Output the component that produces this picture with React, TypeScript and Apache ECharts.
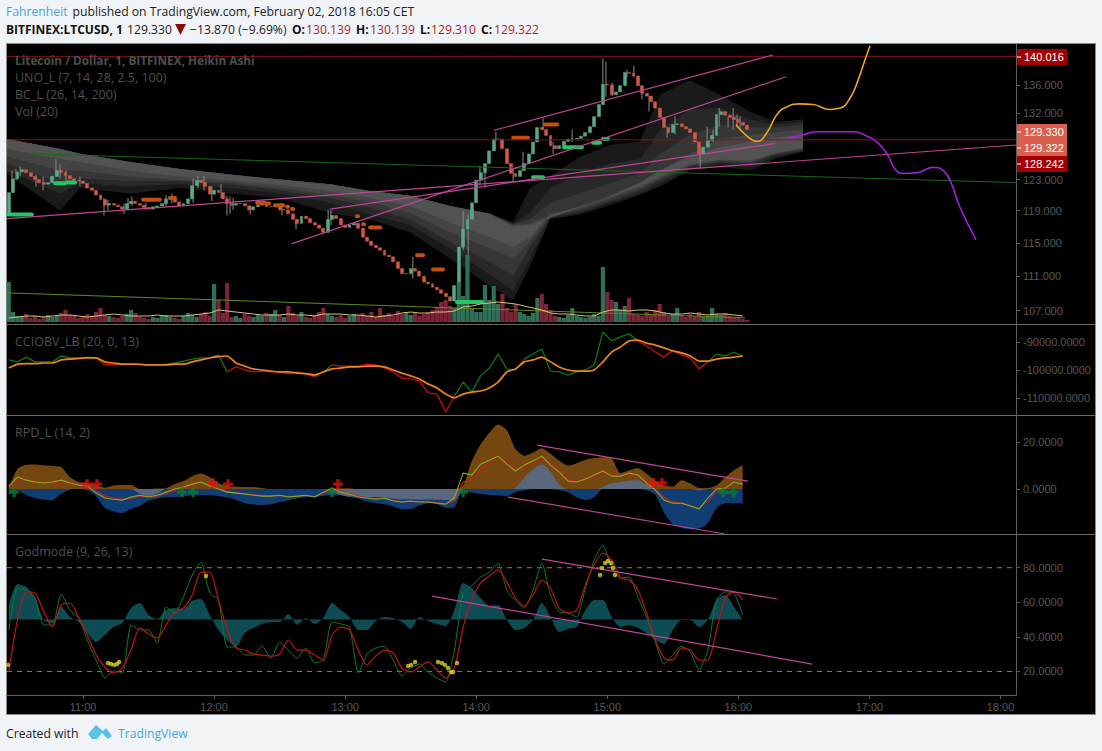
import React, { useEffect, useRef } from "react";
import * as echarts from "echarts";

// ---- time axis (minutes since midnight) ----
const AXIS_MIN = 625.2;
const AXIS_MAX = 1087.1;
const timeTicks = [660, 720, 780, 840, 900, 960, 1020, 1080];

// ---- price pane ----
const priceTicks = [107, 111, 115, 119, 123, 132, 136];
const candleStart = 626;
const candleStep = 2;
const candleClose = [
  121.3,123.1,124.0,124.3,123.9,123.4,123.0,122.6,122.4,122.6,
  123.4,124.2,123.9,123.5,123.1,122.9,122.8,122.5,121.9,121.6,
  121.0,120.4,119.7,119.9,119.7,119.5,119.2,119.9,120.2,119.9,
  119.7,119.4,119.2,119.5,119.6,119.9,120.5,120.6,120.1,119.6,
  119.9,120.5,122.2,122.9,122.6,122.1,121.1,121.6,121.3,120.5,
  119.9,119.7,119.9,119.9,119.6,119.1,119.5,119.7,119.9,119.5,
  119.5,119.6,119.1,119.1,118.6,117.9,117.4,118.3,118.0,117.5,
  117.2,116.8,116.3,117.9,118.4,118.0,117.2,116.9,117.2,117.4,
  116.8,115.7,115.2,114.7,114.4,114.1,113.5,113.3,112.7,111.9,
  111.3,111.3,111.9,111.6,111.0,110.3,110.1,109.7,109.4,109.0,
  108.6,108.1,109.9,114.5,116.7,117.9,120.0,122.9,123.9,125.1,
  126.8,128.4,128.4,127.1,125.1,123.8,123.4,124.2,125.1,126.4,
  128.0,130.0,129.7,128.9,127.5,127.1,127.5,128.1,128.4,128.4,
  128.5,128.8,129.3,130.1,131.5,133.2,136.1,136.0,134.6,135.0,
  135.9,137.8,137.7,137.3,135.9,134.8,134.4,133.6,132.7,131.4,
  130.0,129.3,130.4,130.5,130.1,129.8,129.3,128.0,126.4,127.3,
  128.2,128.9,131.8,132.2,131.7,131.4,131.1,130.7,130.3,129.7,
];
const firstCandleOpen = 118.4;
// minute, low, high of the long wicks
const candleWicks = [
  [627.5,121.9,124.2],[629.3,122.9,124.4],[631.2,123.4,124.7],[638.5,122.1,123.65],[641.7,121.6,123.4],
  [647.6,123.4,125.7],[649.5,123.15,125],[652.2,122.4,124.2],[658.6,122.1,123.4],[669.6,118.4,120.6],
  [671.4,119.1,120.4],[678.8,118.6,119.9],[680.6,119.1,120.6],[682.4,119.6,120.8],[688.8,119.1,120],
  [698,119.6,121],[700.7,119.9,121.2],[710.4,120,123.15],[712.6,121.9,123.4],[715.4,121.6,123.5],
  [719,120.2,122.1],[723.2,120.6,122.4],[725.9,118.4,120.9],[727.3,118.6,120.8],[728.7,119.1,120.6],
  [736.5,118.5,119.7],[751.1,118.4,119.9],[757.5,116.7,117.9],[772.2,116.3,119.1],[773.5,117.2,119.1],
  [811,110.7,113.3],[834,114.1,119],[836.3,113.3,118.5],[841.7,122.3,124.8],[844,121.9,124.8],
  [849,128.1,129.4],[856.9,122.8,124.4],[861.4,124.1,126.7],[870.6,129.7,131.3],[875.2,126.4,128],
  [883.9,128,129.7],[898,133.4,139.9],[899.4,134.3,139.4],[902.2,134.4,136.3],[909,137.1,138.2],
  [912.2,137.1,138.8],[915.9,133.9,135.3],[919.1,132.2,134.4],[927.4,128.6,130.1],[931,129,131.6],
  [942.5,124.4,126.4],[945.7,127.5,130.1],[948.4,128,129.7],[951.2,130.1,132.7],[955.3,130,131.5],
  [957.6,129.7,132.7],[959.4,130,131.8],[960.8,130,131.5],
];
const volumes = [
  40,10,6,5,8,4,6,3,5,7,5,6,9,12,7,6,4,5,8,6,
  10,14,7,6,5,4,6,8,12,9,5,4,3,5,4,6,7,5,4,3,
  6,9,7,5,8,10,6,38,22,9,39,5,6,4,8,6,5,7,6,9,
  8,12,7,5,16,9,6,10,5,4,7,10,14,8,6,5,7,4,6,8,
  7,9,6,10,5,14,7,9,6,11,8,10,7,9,6,8,10,12,15,20,
  22,16,14,40,26,67,14,10,10,37,22,36,18,28,14,10,18,10,8,6,
  9,24,28,18,12,6,5,4,7,14,6,5,4,5,8,6,55,30,22,20,
  12,16,24,8,7,6,10,8,12,18,10,6,8,14,7,5,8,6,10,5,
  6,14,8,7,9,6,4,5,3,2,
];
const volumeMa = [
  4,5,6,6,5,6,7,7,6,5,6,7,8,7,6,6,6,7,6,6,6,7,8,9,12,11,10,9,8,7,7,7,8,7,7,6,8,8,8,7,7,6,5,6,7,9,10,9,9,10,
  10,11,15,16,18,19,20,19,18,16,14,12,9,8,8,7,6,6,10,12,12,11,12,12,11,9,8,8,9,8,7,8,8,7,6,
];

// BC_L cloud: shared minutes, darkest layer first
const cloudMinutes = [625.2,649.5,658.6,681.5,704.4,727.3,750.2,773.1,791.4,809.7,828,846.3,856.9,864.6,873.8,887.5,901.3,915,924.1,937.9,951.6,965.4,976.8,989.6];
const cloudTopLeft = [128.4,127.05,126.4,125.3,124.4,123.65,123,122.4,121.5,120.9,119.6,118.6];
const cloudUpperA = [117.5,121.9,123.4,126,127.6,128.1,134.6,136.7,134.6,132.2,130.8,131.1];
const cloudLowerA = [123.8,119,121.9,121.2,121.9,121.2,120.6,118.7,117.9,116.3,113.1,109.85,108.2,112.15,117.9,118.5,119.7,121,122.1,124.2,124.7,124.2,125.7,126.7];
const cloudUpperB = [117.4,118.7,121.9,123.8,125.1,125.7,129.7,132.5,132.7,131.1,130.4,130.8];
const cloudLowerB = [124.2,121.2,122.5,122.1,122.4,121.9,121.2,120,118.5,117.2,114.3,111.2,109.3,113.1,118.1,118.7,120,121.2,122.5,124.4,125.1,124.7,126,126.8];
const cloudUpperC = [117.3,117.9,120,121.2,122.5,123.8,126.4,129,130.4,130,130,130.4];
const cloudLowerC = [125.1,122.5,123.15,122.8,122.8,122.4,121.6,120.6,119.4,117.9,115.1,112.7,111,114.5,118.1,119,120.2,121.6,122.9,124.7,125.3,125.1,126.3,126.9];
const cloudUpperD = [117.2,117.4,118.4,119.6,120.9,122.1,124.2,126.4,128.4,129,129.3,129.7];
const cloudLowerD = [126,124.2,124.2,123.4,122.9,122.6,121.9,121,120.1,118.7,116.3,114.3,113.1,115.1,118.4,119.2,120.5,121.9,123.15,124.8,125.5,125.3,126.4,127.05];
const cloudUpperE = [117,117.2,118.1,119.4,120.9,122.6,124.2,126,127.3,128,128.6,129];
const cloudLowerE = [127.05,125.7,125.3,124.2,123.4,122.9,122.3,121.5,120.6,119.6,117.5,115.7,114.5,115.7,118.5,119.5,120.8,122.1,123.4,125,125.6,125.5,126.5,127.2];

const redLevels = [140.2, 128.3];
const greenTrendA = [[625.2,126.5],[1087.1,122.6]];
const greenTrendB = [[625.2,109.05],[963,106.2]];
const pinkTrendA = [[625.2,118],[1087.1,127.6]];
const pinkTrendB = [[755.7,114.9],[981.8,137.2]];
const pinkTrendC = [[848.1,129.6],[975.9,140.4]];
const pinkTrendD = [[773.1,119.2],[976.8,127.8]];
const orangeForecast = [[958.9,130.4],[964,128.8],[968.6,128.1],[973.1,129.3],[977.7,131.8],[982.3,132.9],[988.2,133.3],[994.2,133.2],[1002,132.5],[1006.6,132.7],[1011.1,134.1],[1014.8,136.7],[1018,139.7],[1020.3,141.8]];
const purpleForecast = [[982.3,128.5],[989.6,129],[996,129.4],[1012.5,129.4],[1018.9,128.8],[1023.5,128],[1028.1,126.4],[1031.7,124.4],[1035.4,123.8],[1041.8,123.9],[1049.1,124.6],[1053.7,124.2],[1056.9,122.9],[1061.5,119.4],[1068.8,115.4]];
// from minute, to minute, price
const orangeDashes = [[687.5,695.2,120.4],[699.8,702.1,120.6],[739.7,743.3,120],[747.9,751.6,119.7],[744.7,745.2,119.9],[753.4,753.9,119.5],[755.7,756.2,119.2],[785.4,785.9,118.3],[788.2,788.7,117.3],[791.4,796,116.9],[812.9,815.7,113.5],[820.2,824.8,111.8],[856.9,863.7,128.6],[871.5,877,130.4]];
const greenDashes = [[625.7,636.6,118.5],[647.2,651.8,122.5],[653.1,656.3,122.6],[831.2,842.7,108],[866,870.6,123.3],[880.2,888.4,127.3],[893.5,896.7,127.9],[898,900.3,128.4]];

// ---- indicators, one value every 4 minutes ----
const indStart = 626;
const indStep = 4;
const cciTicks = [-110000, -100000, -90000];
const cciMain = [
  -96400,-97100,-95400,-97100,-97100,-97100,-95000,-95700,-95700,-95400,
  -95700,-98200,-97900,-98200,-97900,-97900,-98200,-98200,-97900,-97500,
  -96800,-96100,-95700,-95700,-94600,-100700,-98900,-100000,-100700,-100400,
  -100700,-100700,-101400,-100700,-101400,-102500,-100700,-98200,-98600,-98600,
  -98600,-97900,-98200,-99300,-100700,-102900,-103200,-103900,-108200,-108600,
  -115000,-109300,-104300,-107900,-102100,-99300,-94300,-99600,-100000,-96100,
  -94300,-92500,-100400,-100700,-101800,-100700,-100000,-98200,-86400,-89600,
  -88200,-87100,-89600,-91400,-93600,-95400,-92900,-94600,-95700,-99600,
  -97100,-94300,-95000,-93600,-95000,
];
const cciTone = "gggggggggg" + "rrrrrrrr" + "ggggggg" + "rrrrrrrrrrr" + "g" + "rrrrrrrrrrrrrr" + "ggggggg" + "r" + "ggggggggggggg" + "rrrrrrrr" + "gggg" + "r";
const cciSignal = [
  -99300,-97900,-97700,-97700,-97500,-97500,-96400,-96100,-95900,-95700,
  -95700,-97100,-97500,-97900,-97900,-98000,-98200,-98200,-98200,-97900,
  -97900,-97100,-96400,-95700,-95200,-95000,-97500,-98600,-99600,-100000,
  -100400,-100700,-100700,-101100,-101300,-101800,-100700,-99600,-99300,-98900,
  -98900,-98600,-98600,-98900,-100000,-101100,-102100,-103200,-105000,-106400,
  -108600,-110000,-108600,-107900,-107500,-106400,-104300,-100700,-99600,-97100,
  -96400,-95400,-97100,-98900,-100000,-100400,-100400,-100000,-97100,-93600,
  -91800,-89600,-89300,-90400,-91100,-92100,-93200,-93900,-95000,-96800,
  -96800,-96100,-95700,-95400,-95000,
];

const rpdTicks = [0, 20];
const rpdBrown = [
  0.5,8.5,10.3,10.5,10.1,9.8,9.4,5.1,3,2.5,1.7,0.6,1.5,1.7,1.7,0,0,0.2,0.4,2.2,
  3.4,5.5,6.6,5,2.5,1.3,1,0.9,0.9,0.5,0,0,0,0,0,0,0,0.3,0.4,0.4,
  0,0,0,0,0,0,0,0,0,0,0,0,1.5,12,19,24,27.5,25.1,17,14.2,
  15.5,17.4,15,12,10,11,12.5,13.2,13.5,13,6.8,8,9,6.5,3.5,1.5,1,3.8,2.5,0.5,
  0.5,1.5,5,8,10.2,
];
const rpdBlue = [
  -2.5,-0.5,-2.5,-3.8,-4.5,-4.7,-2,-0.3,0,-0.5,-3,-8,-9.5,-10.2,-8.5,-7.2,-5,-4,-3.5,-3.4,
  -3,-2.7,-2.5,-2.5,-3,-3.5,-4.5,-6,-6.5,-6.8,-6.5,-5.5,-4.7,-4,-3.5,-3.4,-2.9,-2.6,-2.6,-3.4,
  -4,-5.2,-6,-6.5,-7.4,-8.5,-8.5,-7,-6,-6.5,-8,-7.5,-1,-1.5,-2.2,-2.5,-2.7,-3,-1.2,-0.6,
  0,0,0,-0.5,-1.3,-3.5,-4.7,-3.5,0,0,0,0,0,-0.5,-2.5,-10,-15,-16.5,-17,-16.8,
  -14.5,-8,-6,-6,-6.2,
];
const rpdGrey = [
  0,0,0,0,0,0,0,0,0,0,0,0,0,0,0,-2,-3,-2,0,0,
  0,0,0,0,0,0,0,0,0,0,0,0,0,0,0,0,0,-1,-2.5,-3.2,
  -3.2,-3.4,-3.4,-3.6,-4,-4.3,-4.3,-4.5,-4.4,-4.5,-4.6,-5,0,0,0,0,0,0,0.5,5,
  8.5,10.6,7.5,2,0,0,0,0,0.9,2.5,3,3.6,3.8,1.8,0,0,0,0,0,-0.5,
  0,0,0,0,0,
];
const rpdGreen = [
  1.3,5.1,3.8,3,2.6,3,3.8,2.6,1.7,1.3,-1.7,-3.8,-4.3,-4.7,-3.4,-2.6,-3.4,-2.6,-1.3,0,
  0.9,2.1,3,1.3,0,-1.3,-1.7,-2.1,-2.6,-3,-3,-2.6,-3.4,-3,-2.6,-3.4,-1.3,0.4,-1.3,-2.1,
  -3.4,-3.8,-4.3,-3.8,-5.1,-5.5,-5.1,-5.5,-5.5,-6,-6.4,-3.8,6.8,6,10.6,12.3,14,10.6,7.7,10.2,
  11.9,14,10.2,7.2,3.4,3,4.3,6,7.7,5.5,5.5,6.8,6,2.6,-0.4,-4.7,-6,-6,-7.2,-8.5,
  -3.8,0,0.4,3,2.1,
];
const rpdRed = [
  0.5,3.8,4.2,3.2,2.8,2.8,3.2,3.2,2.1,1.7,-0.8,-3,-4,-4.4,-3.8,-3,-3.2,-3,-1.8,-0.4,
  0.5,1.7,2.6,1.8,0.4,-0.9,-1.5,-2,-2.4,-2.8,-3,-2.7,-3.2,-3.1,-2.7,-3.2,-1.8,0,-0.9,-1.9,
  -3,-3.6,-4.1,-3.9,-4.8,-5.4,-5.2,-5.4,-5.5,-5.8,-6.3,-5,3,4.5,8.5,11,13,11.8,8.5,9.5,
  11,13.2,11.2,8,4.2,3.2,4,5.5,7.2,6,5.6,6.4,6.2,3.5,0.2,-3.5,-5.6,-5.9,-7,-8.2,
  -5,-1,0,2.5,2.4,
];
const rpdRedCrosses = [[661.8,2.1],[666.4,2.1],[719.5,2.6],[726.4,2.1],[776.7,2.1],[921,2.6],[925,2.6]];
const rpdGreenCrosses = [[628.4,-1.3],[705.3,-1.3],[710.4,-1.3],[774,-1.3],[834,-1.3],[953,-1.3],[957.6,-1.3]];
const rpdPinkUpper = [[867.8,18.7],[964.4,3.4]];
const rpdPinkLower = [[854.6,-3.4],[953.9,-19.1]];

const godTicks = [20, 40, 60, 80];
const godBands = [20, 80];
const godTeal = [
  58.4,70.6,68.8,63.1,49.8,48,57.3,51.5,48.6,42.3,
  37,41.1,45.7,48,56.7,59.6,52.7,50.3,55.5,56.7,
  56.1,60.8,61.9,52.7,44,38.2,34.2,42.3,45.2,47.5,
  48.6,48.6,53.2,46.9,50.9,47.5,50.9,59.6,55.5,51.5,
  44,44,49.2,51.5,50.9,48.6,44.6,51.5,49.2,47.5,
  46.3,55.5,71.2,68.3,62.5,57.9,58.4,49.8,44,45.2,
  49.8,59.6,51.5,42.8,44.6,45.7,55.5,61.3,61.3,51.5,
  45.7,46.9,45.2,42.3,38.2,35.9,44,49.8,49.8,45.7,
  49.8,61.3,64.2,57.3,49.8,
];
const godGreen = [
  44,68.3,67.1,62.5,46.9,46.9,64.8,55.5,50.9,38.2,
  26.6,16.2,20.3,19.1,46.9,44,44,36.5,57.3,53.8,
  63.1,75.8,83.3,65.4,61.3,34.2,34.2,29.5,29.5,34.7,
  27.8,37,32.4,27.8,33.6,24.9,26.6,48.6,47.5,45.7,
  19.1,30.1,33.6,34.7,26.6,17.4,22,24.3,19.7,16.2,
  13.9,32.4,65.4,69.4,74.6,77.5,82.7,67.1,60.8,56.7,
  67.1,82.7,64.2,54.4,53.8,51.5,68.3,84.4,93.1,80.4,
  74,74.6,63.1,51.5,37,24.3,29.5,34.7,31.3,20.9,
  32.4,61.3,66,65.4,52.7,
];
const godRed = [
  19.7,49.8,66,65.4,54.4,45.7,58.4,59.6,51.5,41.1,
  29.5,22.6,19.1,22,32.4,45.2,41.7,39.4,46.9,54.4,
  56.7,64.2,77.5,77.5,61.3,44,33.6,32.4,30.1,29.5,
  28.9,30.1,38.2,32.4,32.4,29.5,26.6,41.1,45.7,44,
  32.4,23.7,28.9,32.4,30.7,22,19.7,22.6,25.5,20.9,
  16.2,22,45.7,61.3,71.2,75.2,78.7,71.7,62.5,57.9,
  64.2,72.9,68.3,56.7,53.8,55.5,70,81.6,88.5,84.4,
  74,72.9,67.1,53.8,38.2,27.8,26.6,33.6,32.4,26.6,
  26.6,44,62.5,66,61.3,
];
const godDots = [[625.7,23.8],[671.4,24.9],[672.8,24.3],[674.2,23.8],[675.6,24.3],[676.5,25.5],[716.3,75.2],[808.8,23.2],[810.2,23.8],[812,25.5],[822.5,25.5],[824.3,24.9],[825.7,23.8],[827.1,22],[828.5,19.7],[829.4,19.7],[831.2,24.9],[896.7,75.8],[897.6,79.8],[899,82.7],[900.3,83.9],[901.7,82.7],[902.6,79.8],[903.5,75.8]];
const godPinkUpper = [[870.1,85],[977.7,61.9]];
const godPinkLower = [[819.8,63.6],[993.7,24.3]];

// ---- texts ----
const paneLegends = [
  { text: "Litecoin / Dollar, 1, BITFINEX, Heikin Ashi", y: 60, bold: true },
  { text: "UNO_L (7, 14, 28, 2.5, 100)", y: 77 },
  { text: "BC_L (26, 14, 200)", y: 94 },
  { text: "Vol (20)", y: 111 },
  { text: "CCIOBV_LB (20, 0, 13)", y: 341.5 },
  { text: "RPD_L (14, 2)", y: 432.5 },
  { text: "Godmode (9, 26, 13)", y: 551.5 },
];
const priceTags = [
  { text: "140.016", top: 49, fill: "#a30000" },
  { text: "129.330", top: 124, fill: "#d9604c" },
  { text: "129.322", top: 140, fill: "#d9604c" },
  { text: "128.242", top: 156, fill: "#a30000" },
];
const headerBits = [
  { x: 6, y: 11, text: "Fahrenheit", color: "#4ba5d8" },
  { x: 72.5, y: 11, text: "published on TradingView.com, February 02, 2018 16:05 CET", color: "#222" },
  { x: 6, y: 29, text: "BITFINEX:LTCUSD, 1", color: "#111", bold: true },
  { x: 127, y: 29, text: "129.330", color: "#222" },
  { x: 190, y: 29, text: "−13.870 (−9.69%)", color: "#222" },
  { x: 292, y: 29, text: "O:", color: "#111", bold: true },
  { x: 306, y: 29, text: "130.139", color: "#b01c1c" },
  { x: 356, y: 29, text: "H:", color: "#111", bold: true },
  { x: 370, y: 29, text: "130.139", color: "#b01c1c" },
  { x: 420, y: 29, text: "L:", color: "#111", bold: true },
  { x: 431, y: 29, text: "129.310", color: "#b01c1c" },
  { x: 481, y: 29, text: "C:", color: "#111", bold: true },
  { x: 494, y: 29, text: "129.322", color: "#b01c1c" },
  { x: 6, y: 733, text: "Created with", color: "#222" },
  { x: 118, y: 733, text: "TradingView", color: "#4ba5d8" },
];

const UI_FONT = '"Open Sans", "Noto Sans", sans-serif';
const AXIS_FONT = '"Liberation Sans", Arial, sans-serif';
const PINK = "#bd4592";
const AXIS_GREY = "#5c5c5c";

const pane = (i: number) => ({ xAxisIndex: i, yAxisIndex: i });
const indPoints = (vals: number[]) => vals.map((v, i) => [indStart + i * indStep, v]);

const line = (i: number, data: any[], color: string, width = 1, extra: any = {}) => ({
  type: "line", ...pane(i), data, showSymbol: false, symbol: "none", silent: true,
  lineStyle: { color, width }, z: 6, ...extra,
});
const area = (i: number, vals: number[], color: string, origin: number, z: number) =>
  line(i, indPoints(vals), color, 0, { areaStyle: { color, opacity: 1, origin }, smooth: 0.25, z });
const dashes = (list: number[][], color: string) => {
  const pts: any[] = [];
  list.forEach(([a, b, p]) => { pts.push([a, p], [b, p], [b, null]); });
  return line(0, pts, color, 4, { z: 5, lineStyle: { color, width: 4, cap: "round" } });
};
const cloudLayer = (upper: number[], lower: number[], fill: string, z: number) => ({
  type: "custom", ...pane(0), silent: true, z, clip: true,
  data: [[cloudMinutes[0], lower[0]]], encode: { x: 0, y: 1 },
  renderItem: (_: any, api: any) => {
    const pts = [
      ...upper.map((p, i) => api.coord([cloudMinutes[i], p])),
      ...lower.map((p, i) => api.coord([cloudMinutes[i], p])).reverse(),
    ];
    return { type: "polygon", shape: { points: pts }, style: { fill } };
  },
});
const toneSplit = (vals: number[], tone: string) => {
  const out: Record<string, any[]> = { g: [], r: [] };
  for (let i = 0; i < vals.length - 1; i++) {
    const x0 = indStart + i * indStep, x1 = x0 + indStep, t = tone[i];
    out[t].push([x0, vals[i]], [x1, vals[i + 1]], [x1, null]);
  }
  return out;
};

const yAxisBase = (i: number, min: number, max: number, ticks: number[], fmt: (v: number) => string, extra: any = {}) => ({
  gridIndex: i, type: "value", position: "right", min, max, z: 5,
  axisLine: { show: true, lineStyle: { color: AXIS_GREY, width: 1 } },
  axisTick: { show: true, length: 4, lineStyle: { color: AXIS_GREY }, customValues: ticks },
  axisLabel: { show: true, color: "#585858", fontFamily: AXIS_FONT, fontSize: 11, margin: 7, customValues: ticks, formatter: fmt },
  splitLine: { show: false }, ...extra,
});
const xAxisBase = (i: number, shown: boolean) => ({
  gridIndex: i, type: "value", min: AXIS_MIN, max: AXIS_MAX, position: "bottom", z: 5,
  axisLine: { show: true, onZero: false, lineStyle: { color: AXIS_GREY, width: 1 } },
  axisTick: { show: shown, length: 4, lineStyle: { color: AXIS_GREY }, customValues: timeTicks },
  axisLabel: {
    show: shown, color: "#585858", fontFamily: AXIS_FONT, fontSize: 11, margin: 6, customValues: timeTicks,
    formatter: (m: number) => `${Math.floor(m / 60)}:${String(Math.round(m % 60)).padStart(2, "0")}`,
  },
  splitLine: { show: false },
});

function buildOption(): any {
  const opens = candleClose.map((_, i) => (i === 0 ? firstCandleOpen : candleClose[i - 1]));
  const candles = candleClose.map((c, i) => {
    const o = opens[i];
    return [candleStart + i * candleStep, o, c, Math.min(o, c), Math.max(o, c)];
  });
  const cci = toneSplit(cciMain, cciTone);
  const bars = volumes.map((v, i) => ({
    value: [candleStart + i * candleStep, v],
    itemStyle: { color: candleClose[i] >= opens[i] ? "#2f6f58" : "#7d2538" },
  }));
  const grids = [
    { left: 7, right: 86, top: 44, height: 280 },
    { left: 7, right: 86, top: 240, height: 82 },
    { left: 7, right: 86, top: 324, height: 91 },
    { left: 7, right: 86, top: 415, height: 119 },
    { left: 7, right: 86, top: 534, height: 161 },
  ];
  const plus = "path://M3 0H6V3H9V6H6V9H3V6H0V3H3Z";
  const series: any[] = [
    cloudLayer([...cloudTopLeft, ...cloudUpperA], cloudLowerA, "#1a1a1a", 1),
    cloudLayer([...cloudTopLeft, ...cloudUpperB], cloudLowerB, "#282828", 1.1),
    cloudLayer([...cloudTopLeft, ...cloudUpperC], cloudLowerC, "#363636", 1.2),
    cloudLayer([...cloudTopLeft, ...cloudUpperD], cloudLowerD, "#444444", 1.3),
    cloudLayer([...cloudTopLeft, ...cloudUpperE], cloudLowerE, "#525252", 1.4),
    line(0, [[AXIS_MIN, redLevels[0]], [AXIS_MAX, redLevels[0]]], "#8a1414"),
    line(0, [[AXIS_MIN, redLevels[1]], [AXIS_MAX, redLevels[1]]], "#8a1414"),
    line(0, greenTrendA, "#136a13"),
    line(0, greenTrendB, "#5f8a1f"),
    {
      type: "custom", ...pane(0), silent: true, z: 3, data: candleWicks, encode: { x: 0, y: [1, 2] },
      renderItem: (_: any, api: any) => {
        const a = api.coord([api.value(0), api.value(1)]);
        const b = api.coord([api.value(0), api.value(2)]);
        return { type: "line", shape: { x1: a[0], y1: a[1], x2: b[0], y2: b[1] }, style: { stroke: "#8a8a8a", lineWidth: 1 } };
      },
    },
    {
      type: "candlestick", ...pane(0), silent: true, z: 4, barWidth: 3.4, data: candles, encode: { x: 0, y: [1, 2, 3, 4] },
      itemStyle: { color: "#5aa88a", color0: "#d05a48", borderColor: "#5aa88a", borderColor0: "#d05a48", borderWidth: 0.5 },
    },
    dashes(orangeDashes, "#c2500f"),
    dashes(greenDashes, "#22c763"),
    { type: "bar", ...pane(1), data: bars, barWidth: 4.2, silent: true, z: 5 },
    line(1, indPoints(volumeMa), "#d9bf78", 1, { z: 6 }),
    line(0, pinkTrendA, PINK, 1.2, { z: 7 }),
    line(0, pinkTrendB, PINK, 1.2, { z: 7 }),
    line(0, pinkTrendC, PINK, 1.2, { z: 7 }),
    line(0, pinkTrendD, PINK, 1.2, { z: 7 }),
    line(0, orangeForecast, "#f0a020", 1.6, { smooth: 0.5, z: 8 }),
    line(0, purpleForecast, "#a21fe0", 1.6, { smooth: 0.5, z: 8 }),

    line(2, cci.g, "#127412", 1.3),
    line(2, cci.r, "#c40f0f", 1.3),
    line(2, indPoints(cciSignal), "#e8861c", 1.7, { z: 7, smooth: 0.2 }),

    area(3, rpdBrown, "#744610", 0, 2),
    area(3, rpdBlue, "#0f3d74", 0, 2.1),
    area(3, rpdGrey, "#5a677c", 0, 2.2),
    line(3, indPoints(rpdRed), "#c01f1f", 1.3, { z: 5 }),
    line(3, indPoints(rpdGreen), "#7fae24", 1.1, { z: 6 }),
    { type: "scatter", ...pane(3), data: rpdRedCrosses, symbol: plus, symbolSize: 10, itemStyle: { color: "#e01212" }, silent: true, z: 7 },
    { type: "scatter", ...pane(3), data: rpdGreenCrosses, symbol: plus, symbolSize: 10, itemStyle: { color: "#0c7a2e" }, silent: true, z: 7 },
    line(3, rpdPinkUpper, PINK, 1.2, { z: 8 }),
    line(3, rpdPinkLower, PINK, 1.2, { z: 8 }),

    area(4, godTeal, "#0e4c54", 50, 2),
    line(4, [[AXIS_MIN, godBands[1]], [AXIS_MAX, godBands[1]]], "#7d7d7d", 1, { lineStyle: { color: "#7d7d7d", width: 1, type: [5, 5] }, z: 3 }),
    line(4, [[AXIS_MIN, godBands[0]], [AXIS_MAX, godBands[0]]], "#7d7d7d", 1, { lineStyle: { color: "#7d7d7d", width: 1, type: [5, 5] }, z: 3 }),
    line(4, indPoints(godGreen), "#107a2a", 1, { z: 5, smooth: 0.2 }),
    line(4, indPoints(godRed), "#c21212", 1.2, { z: 6, smooth: 0.25 }),
    { type: "scatter", ...pane(4), data: godDots, symbolSize: 4.5, itemStyle: { color: "#d8d020" }, silent: true, z: 8 },
    line(4, godPinkUpper, PINK, 1.2, { z: 7 }),
    line(4, godPinkLower, PINK, 1.2, { z: 7 }),
  ];

  const textEl = (x: number, y: number, text: string, fill: string, bold = false, size = 12.5, font = UI_FONT) => ({
    type: "text", x, y, silent: true, z: 20,
    style: { text, fill, fontFamily: font, fontSize: size, fontWeight: bold ? "bold" : "normal", textVerticalAlign: "middle" },
  });
  const graphic: any[] = [
    { type: "rect", z: -10, silent: true, shape: { x: 6.5, y: 43.5, width: 1089, height: 671 }, style: { fill: "#000", stroke: "#8a8a8a", lineWidth: 1 } },
    ...[324, 415, 534].map((y) => ({ type: "line", z: 10, silent: true, shape: { x1: 7, y1: y + 0.5, x2: 1095, y2: y + 0.5 }, style: { stroke: "#6a6a6a", lineWidth: 1 } })),
    ...headerBits.map((b) => textEl(b.x, b.y, b.text, b.color, !!b.bold, b.bold ? 12 : 12.2)),
    { type: "polygon", silent: true, z: 20, shape: { points: [[175, 24], [186, 24], [180.5, 35]] }, style: { fill: "#8a0a0a" } },
    ...paneLegends.map((l) => textEl(15, l.y, l.text, "#4f4f4f", !!l.bold, l.bold ? 11.8 : 12.5)),
    ...priceTags.flatMap((t) => [
      { type: "rect", silent: true, z: 11, shape: { x: 1017, y: t.top, width: 50, height: 16 }, style: { fill: t.fill } },
      { type: "line", silent: true, z: 11, shape: { x1: 1017, y1: t.top + 8, x2: 1021, y2: t.top + 8 }, style: { stroke: "#fff", lineWidth: 1 } },
      textEl(1024, t.top + 8, t.text, "#fff", false, 11, AXIS_FONT),
    ]),
    { type: "polygon", silent: true, z: 20, shape: { points: [[88, 734], [96, 725], [103, 731], [106, 728], [112, 736], [108, 739], [102, 733], [97, 739], [92, 739]] }, style: { fill: "#5cc0e8" } },
  ];

  return {
    animation: false,
    backgroundColor: "#f1f4f7",
    tooltip: { show: false },
    legend: { show: false },
    grid: grids.map((g) => ({ ...g, containLabel: false })),
    xAxis: [xAxisBase(0, false), { ...xAxisBase(1, false), axisLine: { show: false } }, xAxisBase(2, false), xAxisBase(3, false), xAxisBase(4, true)],
    yAxis: [
      yAxisBase(0, 105.5, 142.05, priceTicks, (v) => v.toFixed(3), { type: "log", logBase: 10 }),
      { gridIndex: 1, type: "value", min: 0, max: 82, show: false },
      yAxisBase(2, -116071, -83571, cciTicks, (v) => v.toFixed(4)),
      yAxisBase(3, -19.1, 31.5, rpdTicks, (v) => v.toFixed(4)),
      yAxisBase(4, 6.4, 99.5, godTicks, (v) => v.toFixed(4)),
    ],
    series,
    graphic: { elements: graphic },
  };
}

export default function App() {
  const ref = useRef<HTMLDivElement>(null);
  useEffect(() => {
    if (!ref.current) return;
    const chart = echarts.init(ref.current, undefined, { renderer: "svg" });
    chart.setOption(buildOption());
    return () => chart.dispose();
  }, []);
  return <div ref={ref} style={{ position: "absolute", left: 0, top: 0, width: 1102, height: 751 }} />;
}
